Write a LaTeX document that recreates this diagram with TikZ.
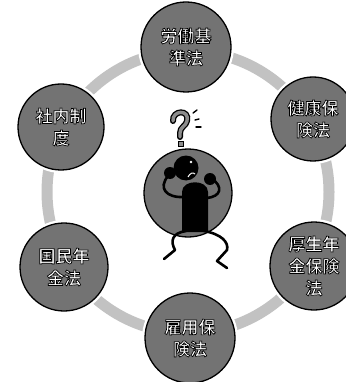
\documentclass[tikz,border=0pt]{standalone}
\usepackage{fontspec}
\newfontfamily\jpfont{Noto Sans CJK JP Bold}
% white lettering with a thin black outline (fill + stroke text rendering)
\newcommand{\ol}[1]{\special{pdf:literal direct 2 Tr 0.7 w 0 G}#1\special{pdf:literal direct 0 Tr}}
\begin{document}
\begin{tikzpicture}[x=1pt,y=-1pt,
  ring/.style={draw=black!24, line width=11pt},
  lawnode/.style={circle, draw=black, line width=1.3pt, fill=black!55,
    preaction={draw=white, line width=6pt},
    minimum size=#1, inner sep=0pt, text=white,
    font=\jpfont\fontsize{17}{22}\selectfont, align=center},
  limb/.style={draw=black, line width=2.6pt, line cap=round, line join=round},
  stressline/.style={draw=black, line width=1.4pt, line cap=round}]
\useasboundingbox (0,0) rectangle (345,382);

% ring joining the six topics
\coordinate (hub) at (188,192);
\draw[ring] (hub) circle[radius=141pt];

% topic circles
\node[lawnode=90pt] (roudou) at (186,47) {\ol{労働基}\\\ol{準法}};
\node[lawnode=84pt] (kenkou) at (313,119) {\ol{健康保}\\\ol{険法}};
\node[lawnode=88pt] (kousei) at (314,266) {\ol{厚生年}\\\ol{金保険}\\\ol{法}};
\node[lawnode=90pt] (koyou) at (190,338) {\ol{雇用保}\\\ol{険法}};
\node[lawnode=88pt] (kokumin) at (64,267) {\ol{国民年}\\\ol{金法}};
\node[lawnode=86pt] (shanai) at (61,127) {\ol{社内制}\\\ol{度}};

% central circle with the puzzled figure
\node[lawnode=88pt] (center) at (188,193) {};

% body
\fill[black] (182,232) -- (182,192) .. controls (182,179) and (208,179) .. (208,192) -- (208,232) -- cycle;
% head
\fill[black] (186,168) circle[radius=12.5pt];
\fill[white] (191,162) circle[radius=1.3pt];
\draw[white, line width=1pt] (188,177) .. controls (190,173) and (193,172) .. (195,174);
% arms
\draw[limb] (184,197) .. controls (166,198) and (158,188) .. (168,176);
\draw[limb] (206,198) .. controls (222,197) and (223,186) .. (212,179);
\fill[black] (170,173) circle[radius=6pt];
\fill[black] (210,179) circle[radius=6pt];
% legs
\draw[limb] (186,231) .. controls (172,233) and (170,241) .. (175,250) -- (164,259);
\draw[limb] (204,231) .. controls (221,234) and (229,242) .. (227,250) -- (217,261) -- (227,268);

% question mark
\draw[black, line width=6pt, line cap=round] (173,121) .. controls (172,110) and (190,109) .. (187,121) .. controls (186,126) and (180,127) .. (180,133) -- (180,137);
\draw[black!45, line width=3.4pt, line cap=round] (173,121) .. controls (172,110) and (190,109) .. (187,121) .. controls (186,126) and (180,127) .. (180,133) -- (180,137);
\draw[black, fill=black!45, line width=0.8pt] (178,141) rectangle (183,146);
% stress marks
\draw[stressline] (193,113) -- (197,110);
\draw[stressline] (195,120) -- (199,119);
\draw[stressline] (196,127) -- (201,127);
\end{tikzpicture}
\end{document}
